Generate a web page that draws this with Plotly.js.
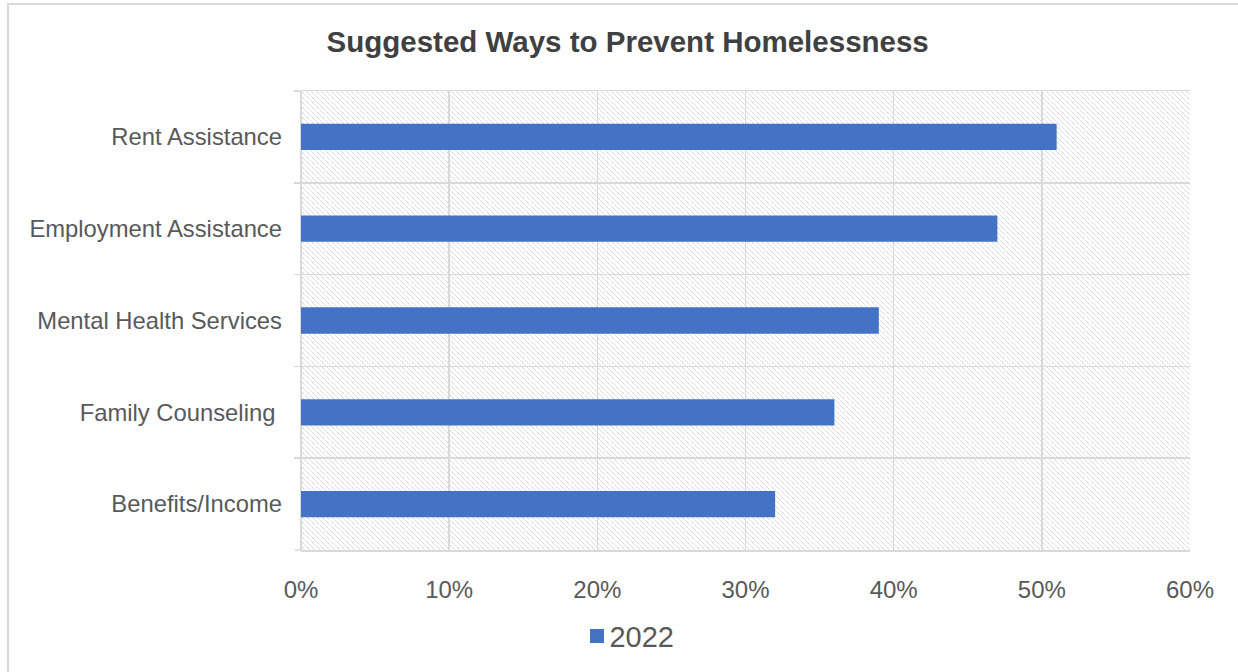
<!DOCTYPE html>
<html>
<head>
<meta charset="utf-8">
<script src="https://cdn.plot.ly/plotly-3.0.1.min.js"></script>
<style>
  html, body { margin: 0; padding: 0; background: #ffffff; }
  #wrap { position: relative; width: 1238px; height: 672px; overflow: hidden; }
  #chart { position: absolute; left: 0; top: 0; width: 1238px; height: 672px; }
  #frame { position: absolute; left: 7px; top: 3px; width: 1300px; height: 700px;
           border-left: 2px solid #d9d9d9; border-top: 2px solid #d9d9d9; pointer-events: none; }
</style>
</head>
<body>
<div id="wrap">
  <div id="chart"></div>
  <div id="frame"></div>
</div>
<script>
// Data (percent of respondents)
const categories = ["Rent Assistance", "Employment Assistance", "Mental Health Services", "Family Counseling\u00a0", "Benefits/Income"];
const values2022 = [51, 47, 39, 36, 32];
const seriesName = "2022";
const xTickValues = [0, 10, 20, 30, 40, 50, 60];
const xTickLabels = ["0%", "10%", "20%", "30%", "40%", "50%", "60%"];
const chartTitle = "Suggested Ways to Prevent Homelessness";

const FONT = "'Liberation Sans', Arial, sans-serif";
const GRID = "#d9d9d9";

const trace = {
  type: "bar",
  orientation: "h",
  name: seriesName,
  x: values2022,
  y: categories,
  width: 0.286,
  marker: { color: "#4472C4", line: { width: 0 } },
  hoverinfo: "x+y"
};

const layout = {
  width: 1238,
  height: 672,
  margin: { l: 301, r: 48, t: 91, b: 121, pad: 0 },
  paper_bgcolor: "rgba(0,0,0,0)",
  plot_bgcolor: "#ffffff",
  font: { family: FONT, color: "#595959", size: 23.8 },
  title: {
    text: "<b>" + chartTitle + "</b>",
    font: { family: FONT, size: 29.5, color: "#404040" },
    xref: "container", x: 0.507, xanchor: "center",
    yref: "container", y: 1 - 42 / 672, yanchor: "middle"
  },
  xaxis: {
    range: [0, 60],
    tickvals: xTickValues,
    ticktext: xTickLabels,
    showgrid: true, gridcolor: GRID, gridwidth: 1.5,
    zeroline: true, zerolinecolor: GRID, zerolinewidth: 1.5,
    showline: true, mirror: true, linecolor: GRID, linewidth: 1.5,
    ticks: "",
    ticklabelstandoff: 18,
    tickfont: { family: FONT, size: 24, color: "#595959" },
    fixedrange: true
  },
  yaxis: {
    type: "category",
    range: [4.5, -0.5],
    tickson: "boundaries",
    ticks: "outside", ticklen: 6, tickcolor: GRID, tickwidth: 1.5,
    showgrid: true, gridcolor: GRID, gridwidth: 1.5,
    showline: false,
    ticklabelstandoff: 18,
    tickfont: { family: FONT, size: 23.8, color: "#595959" },
    fixedrange: true
  },
  shapes: [
    // bottom-left boundary tick (category axis outer tick at the lower edge)
    { type: "line", xref: "paper", yref: "paper", x0: -6 / 889, x1: 0, y0: 0, y1: 0,
      line: { color: GRID, width: 1.5 }, layer: "below" }
  ],
  showlegend: true,
  legend: {
    orientation: "h",
    x: 0.302, xanchor: "left",
    y: -0.185, yanchor: "middle",
    font: { family: FONT, size: 29, color: "#595959" },
    bgcolor: "rgba(0,0,0,0)",
    itemwidth: 30
  },
  bargap: 0.714
};

Plotly.newPlot("chart", [trace], layout, { displayModeBar: false, staticPlot: true }).then(function (gd) {
  // Hatched plot-area background (light gray downward diagonal pattern)
  const svgNS = "http://www.w3.org/2000/svg";
  const mainSvg = gd.querySelector("svg.main-svg");
  let defs = mainSvg.querySelector("defs");
  if (!defs) { defs = document.createElementNS(svgNS, "defs"); mainSvg.insertBefore(defs, mainSvg.firstChild); }
  const pat = document.createElementNS(svgNS, "pattern");
  pat.setAttribute("id", "hatchbg");
  pat.setAttribute("patternUnits", "userSpaceOnUse");
  pat.setAttribute("width", "5");
  pat.setAttribute("height", "5");
  const rect = document.createElementNS(svgNS, "rect");
  rect.setAttribute("width", "5"); rect.setAttribute("height", "5"); rect.setAttribute("fill", "#ffffff");
  pat.appendChild(rect);
  const p = document.createElementNS(svgNS, "path");
  p.setAttribute("d", "M-1,-1 L6,6 M-1,4 L1,6 M4,-1 L6,1");
  p.setAttribute("stroke", "#c8c8c8");
  p.setAttribute("stroke-width", "1");
  p.setAttribute("stroke-dasharray", "1.4,0.6");
  pat.appendChild(p);
  defs.appendChild(pat);
  gd.querySelectorAll("rect.bg").forEach(function (r) {
    if (!r.closest(".legend")) { r.style.fill = "url(#hatchbg)"; }
  });
  // Legend swatch: larger square, closer to its label (Excel style)
  gd.querySelectorAll(".legend .legendpoints").forEach(function (g) {
    const t = g.getAttribute("transform") || "";
    g.setAttribute("transform", t + " translate(7.5,0)");
    g.querySelectorAll("path").forEach(function (path) {
      path.setAttribute("d", "M7,7H-7V-7H7Z");
    });
  });
});
</script>
</body>
</html>
